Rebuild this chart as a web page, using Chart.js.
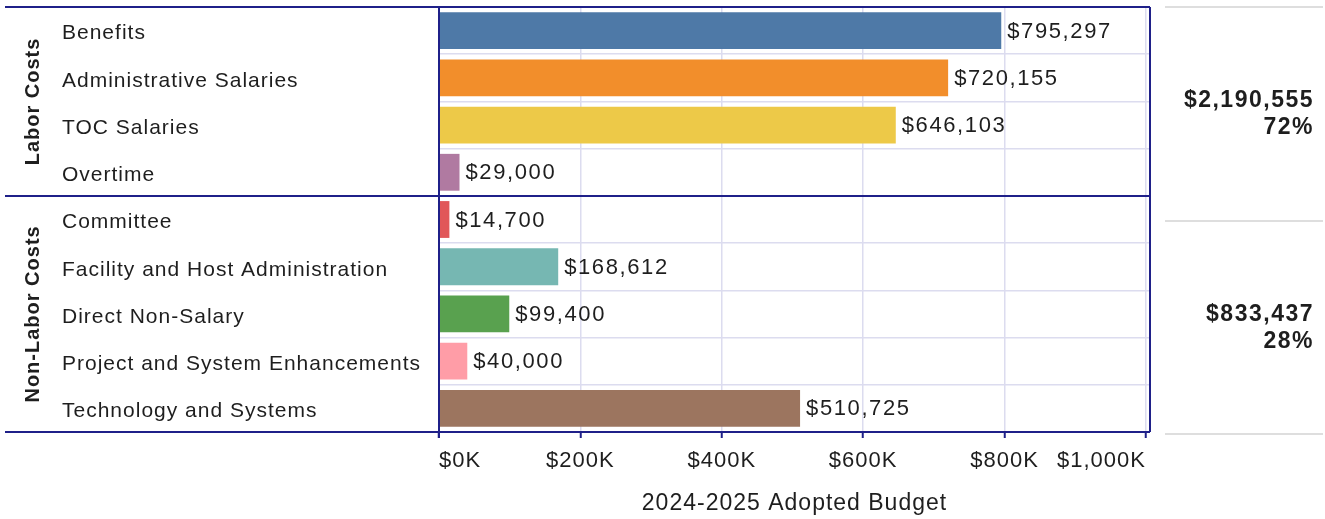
<!DOCTYPE html>
<html>
<head>
<meta charset="utf-8">
<script src="https://cdn.jsdelivr.net/npm/chart.js@4"></script>
<style>
  body { margin: 0; background: #fff; }
  #wrap { width: 1325px; height: 519px; position: relative; }
</style>
</head>
<body>
<div id="wrap"><canvas id="budgetChart"></canvas></div>
<script>
// Dados do gráfico
const categories = [
  'Benefits', 'Administrative Salaries', 'TOC Salaries', 'Overtime',
  'Committee', 'Facility and Host Administration', 'Direct Non-Salary',
  'Project and System Enhancements', 'Technology and Systems'
];
const budget = [795297, 720155, 646103, 29000, 14700, 168612, 99400, 40000, 510725];
const barColors = [
  '#4e79a7', '#f28e2b', '#edc948', '#b07aa1',
  '#e15759', '#76b7b2', '#59a14f', '#ff9da7', '#9c755f'
];
const groupNames = ['Labor Costs', 'Non-Labor Costs'];
const groupSizes = [4, 5];
const xTicks = [0, 200000, 400000, 600000, 800000, 1000000];

const NAVY = '#1f2089';
const GRID = '#dcdcef';
const TEXT = '#1e1e1e';

const money = v => '$' + v.toLocaleString('en-US');

// Plugin: bordas, rótulos de grupo, valores e painel de totais
const extras = {
  id: 'extras',
  beforeDraw(chart) {
    chart.ctx.letterSpacing = '1px';
  },
  afterDraw(chart) {
    const ctx = chart.ctx;
    const area = chart.chartArea;
    const y = chart.scales.y;
    const meta = chart.getDatasetMeta(0);

    ctx.save();
    // valores ao lado das barras
    ctx.font = '22px "Liberation Sans", Arial, sans-serif';
    ctx.letterSpacing = '1.6px';
    ctx.fillStyle = TEXT;
    ctx.textAlign = 'left';
    ctx.textBaseline = 'middle';
    meta.data.forEach((bar, i) => {
      ctx.fillText(money(budget[i]), bar.x + 6, bar.y + 1);
    });

    // linhas azul-escuras
    ctx.strokeStyle = NAVY;
    ctx.lineWidth = 2;
    const half = (y.getPixelForValue(1) - y.getPixelForValue(0)) / 2;
    let start = 0;
    const bounds = [area.top];
    groupSizes.forEach(n => {
      start += n;
      bounds.push(y.getPixelForValue(start - 1) + half);
    });
    ctx.beginPath();
    bounds.forEach(b => {
      ctx.moveTo(5, Math.round(b));
      ctx.lineTo(area.right, Math.round(b));
    });
    ctx.moveTo(area.left, area.top);
    ctx.lineTo(area.left, area.bottom + 6);
    ctx.moveTo(area.right, area.top);
    ctx.lineTo(area.right, area.bottom);
    ctx.stroke();

    // rótulos de grupo, verticais
    ctx.font = 'bold 20px "Liberation Sans", Arial, sans-serif';
    ctx.letterSpacing = '1px';
    ctx.textAlign = 'center';
    ctx.textBaseline = 'alphabetic';
    groupNames.forEach((name, g) => {
      const cy = (bounds[g] + bounds[g + 1]) / 2;
      ctx.save();
      ctx.translate(39, cy);
      ctx.rotate(-Math.PI / 2);
      ctx.fillText(name, 0, 0);
      ctx.restore();
    });

    // painel direito com totais
    const total = budget.reduce((a, b) => a + b, 0);
    const top = area.top;
    const bottom = area.bottom + 2;
    const mid = (top + bottom) / 2;
    ctx.strokeStyle = '#d3d3d3';
    ctx.lineWidth = 1.5;
    ctx.beginPath();
    [top, mid, bottom].forEach(py => {
      ctx.moveTo(1165, Math.round(py));
      ctx.lineTo(1323, Math.round(py));
    });
    ctx.stroke();

    ctx.font = 'bold 23px "Liberation Sans", Arial, sans-serif';
    ctx.letterSpacing = '1.5px';
    ctx.textAlign = 'right';
    ctx.textBaseline = 'middle';
    let idx = 0;
    groupSizes.forEach((n, g) => {
      const sum = budget.slice(idx, idx + n).reduce((a, b) => a + b, 0);
      idx += n;
      const cy = g === 0 ? (top + mid) / 2 : (mid + bottom) / 2;
      ctx.fillText(money(sum), 1314, cy - 13);
      ctx.fillText(Math.round(sum / total * 100) + '%', 1314, cy + 14);
    });
    ctx.restore();
  }
};

const budgetChart = new Chart(document.getElementById('budgetChart'), {
  type: 'bar',
  data: {
    labels: categories,
    datasets: [{
      data: budget,
      backgroundColor: barColors,
      borderWidth: 0,
      categoryPercentage: 1,
      barPercentage: 0.78
    }]
  },
  options: {
    indexAxis: 'y',
    responsive: true,
    maintainAspectRatio: false,
    animation: false,
    layout: { padding: { left: 62, right: 175, top: 7, bottom: 0 } },
    plugins: {
      legend: { display: false },
      tooltip: { enabled: false }
    },
    scales: {
      y: {
        grid: { offset: true, color: GRID, lineWidth: 1.5, drawTicks: false },
        border: { display: false },
        ticks: {
          crossAlign: 'far',
          padding: 0,
          labelOffset: 3,
          color: TEXT,
          font: { family: '"Liberation Sans", Arial, sans-serif', size: 21 }
        },
        afterFit(scale) {
          scale.width = 377;
          scale.paddingTop = 0;
          scale.paddingBottom = 0;
        }
      },
      x: {
        min: 0,
        max: 1005700,
        afterBuildTicks(scale) {
          scale.ticks = xTicks.map(v => ({ value: v }));
        },
        grid: { color: GRID, lineWidth: 1.5, tickColor: NAVY, tickLength: 6, tickWidth: 2 },
        border: { display: false },
        ticks: {
          padding: 10,
          align: 'inner',
          color: TEXT,
          maxRotation: 0,
          autoSkip: false,
          font: { family: '"Liberation Sans", Arial, sans-serif', size: 22 },
          callback: v => '$' + (v / 1000).toLocaleString('en-US') + 'K'
        },
        title: {
          display: true,
          text: '2024-2025 Adopted Budget',
          color: TEXT,
          font: { family: '"Liberation Sans", Arial, sans-serif', size: 23 },
          padding: { top: 0, bottom: 2 }
        },
        afterFit(scale) { scale.height = 87; }
      }
    }
  },
  plugins: [extras]
});
</script>
</body>
</html>
